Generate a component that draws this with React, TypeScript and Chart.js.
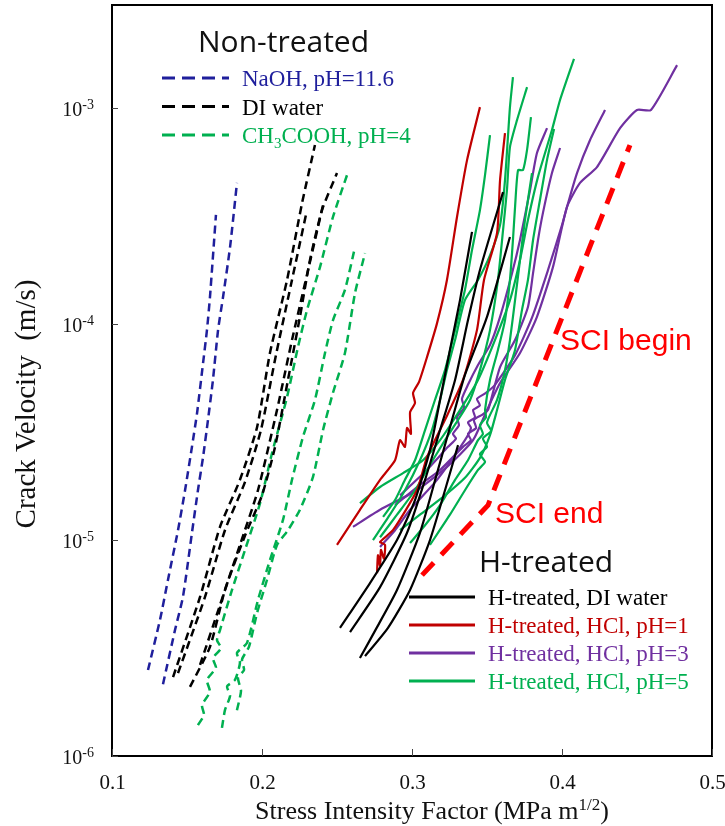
import React, { useEffect, useRef } from "react";
import { Chart, registerables } from "chart.js";

Chart.register(...registerables);

type Pt = [number, number]; // [stress intensity factor (MPa m^1/2), crack velocity (m/s)]

// ---- Non-treated runs (dashed) ----
const naohRun1: Pt[] = [[0.124, 2.5e-6], [0.132, 4.27e-6], [0.1373, 6.53e-6], [0.144, 1.11e-5], [0.1487, 1.7e-5], [0.1533, 2.7e-5], [0.1567, 3.87e-5], [0.1607, 6.59e-5], [0.1633, 9.37e-5], [0.1653, 1.33e-4], [0.1693, 3.2e-4]];
const naohRun2: Pt[] = [[0.134, 2.15e-6], [0.142, 3.83e-6], [0.1473, 5.45e-6], [0.1533, 1.08e-5], [0.1573, 1.7e-5], [0.1607, 2.42e-5], [0.164, 3.6e-5], [0.1673, 5.51e-5], [0.1707, 9.37e-5], [0.174, 1.33e-4], [0.1787, 2.27e-4], [0.1833, 4.5e-4]];

const diRun1: Pt[] = [[0.1407, 2.32e-6], [0.1587, 5.45e-6], [0.172, 1.15e-5], [0.1853, 1.9e-5], [0.1967, 3.33e-5], [0.2053, 7.34e-5], [0.2167, 1.6e-4], [0.2267, 3.63e-4], [0.2353, 6.74e-4]];
const diRun2: Pt[] = [[0.144, 2.42e-6], [0.162, 5.45e-6], [0.1753, 1.11e-5], [0.1887, 1.86e-5], [0.1993, 3.23e-5], [0.2093, 7.18e-5], [0.2193, 1.52e-4], [0.2293, 3.2e-4]];
const diRun3: Pt[] = [[0.152, 2.09e-6], [0.1653, 3.2e-6], [0.1753, 5.87e-6], [0.1887, 1.05e-5], [0.2, 1.61e-5], [0.2087, 2.7e-5], [0.2173, 5.51e-5], [0.2253, 1.08e-4], [0.232, 1.98e-4], [0.24, 3.37e-4], [0.25, 5.0e-4]];
const diRun4: Pt[] = [[0.1587, 2.64e-6], [0.172, 5.0e-6], [0.1853, 9.49e-6], [0.1973, 1.7e-5], [0.21, 4.0e-5], [0.22, 8.43e-5], [0.23, 1.69e-4], [0.2407, 3.56e-4]];

const aceticRun1: Pt[] = [[0.1573, 1.39e-6], [0.1613, 1.55e-6], [0.16, 1.72e-6], [0.1653, 1.98e-6], [0.1633, 2.25e-6], [0.1693, 2.56e-6], [0.1673, 2.84e-6], [0.1727, 3.16e-6], [0.17, 3.44e-6], [0.172, 3.83e-6], [0.18, 5.87e-6], [0.1887, 9.0e-6], [0.1987, 1.48e-5], [0.2067, 2.53e-5], [0.2167, 4.59e-5], [0.224, 7.83e-5], [0.23, 1.16e-4], [0.2387, 1.84e-4], [0.2473, 3.13e-4], [0.2567, 4.9e-4]];
const aceticRun2: Pt[] = [[0.1733, 1.35e-6], [0.1753, 1.63e-6], [0.1787, 1.9e-6], [0.1767, 2.1e-6], [0.182, 2.25e-6], [0.1853, 2.7e-6], [0.1833, 3.0e-6], [0.19, 3.34e-6], [0.1973, 5.27e-6], [0.2053, 8.07e-6], [0.214, 1.24e-5], [0.22, 1.9e-5], [0.2273, 3.0e-5], [0.2353, 4.45e-5], [0.242, 7.34e-5], [0.2473, 1.04e-4], [0.2553, 1.44e-4], [0.262, 2.27e-4]];
const aceticRun3: Pt[] = [[0.1833, 1.63e-6], [0.186, 2.0e-6], [0.184, 2.3e-6], [0.188, 2.5e-6], [0.1867, 2.8e-6], [0.1913, 3.2e-6], [0.1967, 4.59e-6], [0.2033, 6.53e-6], [0.21, 9.49e-6], [0.2173, 1.11e-5], [0.2253, 1.38e-5], [0.234, 1.96e-5], [0.2407, 3.23e-5], [0.2473, 4.8e-5], [0.2553, 7.34e-5], [0.262, 1.39e-4], [0.2687, 2.13e-4]];

// ---- H-treated runs (solid) ----
const hDiRun1: Pt[] = [[0.252, 3.92e-6], [0.272, 6.32e-6], [0.29, 1.0e-5], [0.302, 1.53e-5], [0.312, 2.61e-5], [0.3187, 4.45e-5], [0.3253, 7.59e-5], [0.332, 1.29e-4], [0.34, 2.67e-4]];
const hDiRun2: Pt[] = [[0.2587, 3.75e-6], [0.2787, 6.05e-6], [0.2967, 1.08e-5], [0.3087, 1.9e-5], [0.3187, 3.23e-5], [0.3287, 5.51e-5], [0.3373, 1.04e-4], [0.3453, 1.78e-4], [0.3607, 4.08e-4]];
const hDiRun3: Pt[] = [[0.2653, 2.84e-6], [0.2767, 3.95e-6], [0.29, 5.87e-6], [0.3053, 1.08e-5], [0.3167, 2.04e-5], [0.3267, 3.6e-5], [0.3353, 5.81e-5], [0.35, 1.08e-4], [0.3653, 2.53e-4]];
const hDiRun4: Pt[] = [[0.2687, 2.9e-6], [0.284, 3.92e-6], [0.2987, 5.87e-6], [0.312, 1.0e-5], [0.322, 1.7e-5], [0.3307, 2.75e-5]];

const hcl1Run1: Pt[] = [[0.25, 9.49e-6], [0.2653, 1.38e-5], [0.2787, 1.9e-5], [0.2887, 2.34e-5], [0.292, 2.9e-5], [0.2953, 2.7e-5], [0.2967, 3.3e-5], [0.2993, 3.1e-5], [0.2987, 3.9e-5], [0.302, 4.3e-5], [0.3007, 4.8e-5], [0.3047, 5.4e-5], [0.31, 7.03e-5], [0.3167, 1.01e-4], [0.3233, 1.6e-4], [0.33, 3.13e-4], [0.3367, 5.74e-4], [0.3453, 1.01e-3]];
const hcl1Run2: Pt[] = [[0.2767, 7.03e-6], [0.2773, 8.5e-6], [0.2787, 7.6e-6], [0.2793, 9.0e-6], [0.2813, 8.2e-6], [0.282, 9.5e-6], [0.2787, 9.79e-6], [0.2873, 1.11e-5], [0.3033, 1.7e-5], [0.31, 2.42e-5], [0.322, 3.6e-5], [0.334, 5.51e-5], [0.3433, 9.37e-5], [0.348, 1.6e-4], [0.3567, 2.64e-4], [0.3587, 4.64e-4], [0.362, 7.66e-4]];

const hcl3Run1: Pt[] = [[0.2607, 1.15e-5], [0.2787, 1.38e-5], [0.3033, 1.7e-5], [0.3233, 2.18e-5], [0.3407, 2.9e-5], [0.35, 4.0e-5], [0.3587, 5.33e-5], [0.372, 7.34e-5], [0.3833, 1.08e-4], [0.394, 1.84e-4], [0.4033, 3.48e-4], [0.412, 4.5e-4], [0.4233, 5.33e-4], [0.4387, 8.07e-4], [0.45, 9.8e-4], [0.4593, 9.8e-4], [0.4767, 1.58e-3]];
const hcl3Run2: Pt[] = [[0.2787, 9.29e-6], [0.2887, 1.11e-5], [0.2987, 1.38e-5], [0.3167, 1.9e-5], [0.3353, 2.9e-5], [0.3393, 3.3e-5], [0.3373, 3.5e-5], [0.342, 3.7e-5], [0.3407, 4.0e-5], [0.3453, 4.2e-5], [0.3433, 4.5e-5], [0.3493, 4.8e-5], [0.3553, 5.23e-5], [0.3687, 7.18e-5], [0.38, 1.07e-4], [0.3907, 1.78e-4], [0.4, 2.87e-4], [0.4033, 3.48e-4], [0.41, 5.0e-4], [0.4187, 7.11e-4], [0.4287, 9.8e-4]];
const hcl3Run3: Pt[] = [[0.292, 1.61e-5], [0.3087, 2.07e-5], [0.324, 2.7e-5], [0.3293, 2.95e-5], [0.3273, 3.1e-5], [0.3313, 3.4e-5], [0.33, 3.7e-5], [0.3347, 4.1e-5], [0.3333, 4.5e-5], [0.3373, 5.23e-5], [0.344, 6.46e-5], [0.352, 8.0e-5], [0.3587, 1.08e-4], [0.3667, 1.72e-4], [0.372, 2.45e-4], [0.3787, 4.17e-4], [0.3833, 6.19e-4], [0.39, 8.07e-4]];
const hcl3Run4: Pt[] = [[0.2887, 1.45e-5], [0.3053, 1.8e-5], [0.3187, 2.11e-5], [0.334, 2.7e-5], [0.3393, 2.9e-5], [0.3373, 3.1e-5], [0.3427, 3.3e-5], [0.3413, 3.6e-5], [0.3467, 3.8e-5], [0.3507, 4.0e-5], [0.3587, 6.32e-5], [0.3687, 8.43e-5], [0.3773, 1.2e-4], [0.3807, 1.72e-4], [0.384, 2.45e-4], [0.3873, 3.27e-4], [0.3933, 5.0e-4], [0.3987, 6.53e-4]];

const hcl5Run1: Pt[] = [[0.2653, 1.48e-5], [0.2787, 1.76e-5], [0.294, 2.04e-5], [0.3073, 2.34e-5], [0.3187, 2.9e-5], [0.332, 4.0e-5], [0.344, 5.51e-5], [0.3553, 8.43e-5], [0.3653, 1.29e-4], [0.372, 1.98e-4], [0.3773, 3.03e-4], [0.384, 4.8e-4], [0.3933, 7.91e-4], [0.3987, 1.09e-3], [0.408, 1.69e-3]];
const hcl5Run2: Pt[] = [[0.274, 1.0e-5], [0.2853, 1.31e-5], [0.2953, 1.7e-5], [0.3053, 2.34e-5], [0.3133, 3.23e-5], [0.3187, 4.45e-5], [0.3233, 6.12e-5], [0.3287, 8.43e-5], [0.3353, 1.29e-4], [0.344, 1.6e-4], [0.352, 2.08e-4], [0.3587, 2.87e-4], [0.362, 4.64e-4], [0.3653, 1.01e-3], [0.3673, 1.39e-3]];
const hcl5Run3: Pt[] = [[0.2787, 1.03e-5], [0.29, 1.31e-5], [0.302, 1.7e-5], [0.312, 2.23e-5], [0.322, 2.9e-5], [0.3307, 3.6e-5], [0.3387, 4.45e-5], [0.3453, 6.12e-5], [0.352, 9.37e-5], [0.3573, 1.6e-4], [0.3607, 2.72e-4], [0.3633, 4.17e-4], [0.3653, 6.59e-4], [0.37, 8.79e-4], [0.3767, 1.25e-3]];
const hcl5Run4: Pt[] = [[0.2987, 9.68e-6], [0.3087, 1.17e-5], [0.3187, 1.45e-5], [0.3287, 1.9e-5], [0.3373, 2.34e-5], [0.344, 2.9e-5], [0.3473, 3.1e-5], [0.3453, 3.4e-5], [0.3493, 3.7e-5], [0.3487, 4.0e-5], [0.352, 5.51e-5], [0.3573, 7.59e-5], [0.362, 1.04e-4], [0.3653, 1.6e-4], [0.3673, 2.45e-4], [0.3687, 3.48e-4], [0.3707, 5.16e-4], [0.374, 5.16e-4], [0.3767, 6.4e-4], [0.3793, 9.08e-4]];
const hcl5Run5: Pt[] = [[0.2807, 1.28e-5], [0.2887, 1.53e-5], [0.2953, 1.9e-5], [0.302, 2.34e-5], [0.3087, 3.23e-5], [0.3153, 4.45e-5], [0.322, 6.12e-5], [0.3287, 9.37e-5], [0.3353, 1.44e-4], [0.34, 2.2e-4], [0.3453, 3.37e-4], [0.3487, 4.9e-4], [0.352, 7.5e-4]];
const hcl5Run6: Pt[] = [[0.292, 1.11e-5], [0.3053, 1.31e-5], [0.322, 1.61e-5], [0.3353, 1.94e-5], [0.3453, 2.4e-5], [0.352, 3.06e-5], [0.3567, 4.0e-5], [0.362, 5.51e-5], [0.3687, 7.59e-5], [0.3733, 1.16e-4], [0.3773, 1.6e-4], [0.3807, 2.45e-4], [0.3853, 3.75e-4], [0.39, 5.74e-4], [0.3947, 8.0e-4]];
const hcl5Run7: Pt[] = [[0.312, 9.49e-6], [0.3253, 1.31e-5], [0.3353, 1.7e-5], [0.344, 2.11e-5], [0.3487, 2.3e-5], [0.3453, 2.5e-5], [0.35, 2.7e-5], [0.3473, 2.95e-5], [0.3527, 3.2e-5], [0.35, 3.5e-5], [0.3567, 4.45e-5], [0.362, 6.12e-5], [0.3653, 8.43e-5], [0.3687, 1.29e-4], [0.372, 1.98e-4], [0.3753, 3.03e-4], [0.38, 5.0e-4]];

// Stress-corrosion-interval guide line
const sciK = [0.3067, 0.3507, 0.4453];
const sciV = [6.88e-6, 1.45e-5, 6.74e-4];

// Axis ticks
const xTicks = [0.1, 0.2, 0.3, 0.4, 0.5];
const yTickExponents = [-6, -5, -4, -3];

const BLUE = "#1f1f9c";
const BLACK = "#000000";
const GREEN = "#00b050";
const RED = "#c00000";
const PURPLE = "#7030a0";
const SCI_RED = "#ff0000";

const SERIF = '"Liberation Serif", "Times New Roman", serif';
const SANS = '"Open Sans", "Noto Sans", sans-serif';
const ARIAL = '"Liberation Sans", Arial, sans-serif';

type Part = { t: string; shift?: "sup" | "sub" };

const nonTreatedSeries = [
  { label: [{ t: "NaOH, pH=11.6" }] as Part[], color: BLUE, runs: [naohRun1, naohRun2] },
  { label: [{ t: "DI water" }] as Part[], color: BLACK, runs: [diRun1, diRun2, diRun3, diRun4] },
  { label: [{ t: "CH" }, { t: "3", shift: "sub" }, { t: "COOH, pH=4" }] as Part[], color: GREEN, runs: [aceticRun1, aceticRun2, aceticRun3] },
];

const hTreatedSeries = [
  { label: "H-treated, DI water", color: BLACK, runs: [hDiRun1, hDiRun2, hDiRun3, hDiRun4] },
  { label: "H-treated, HCl, pH=1", color: RED, runs: [hcl1Run1, hcl1Run2] },
  { label: "H-treated, HCl, pH=3", color: PURPLE, runs: [hcl3Run1, hcl3Run2, hcl3Run3, hcl3Run4] },
  { label: "H-treated, HCl, pH=5", color: GREEN, runs: [hcl5Run1, hcl5Run2, hcl5Run3, hcl5Run4, hcl5Run5, hcl5Run6, hcl5Run7] },
];

// drawing order of the H-treated groups (purple on top of green)
const hDrawOrder = [0, 1, 3, 2];

function drawParts(
  ctx: CanvasRenderingContext2D,
  parts: Part[],
  x: number,
  y: number,
  size: number,
  family: string,
  color: string,
  align: "left" | "center" | "right" = "left"
) {
  const small = Math.round(size * 0.65);
  const widths = parts.map((p) => {
    ctx.font = `${p.shift ? small : size}px ${family}`;
    return ctx.measureText(p.t).width;
  });
  const total = widths.reduce((a, b) => a + b, 0);
  let cx = align === "left" ? x : align === "center" ? x - total / 2 : x - total;
  ctx.fillStyle = color;
  ctx.textAlign = "left";
  ctx.textBaseline = "alphabetic";
  parts.forEach((p, i) => {
    ctx.font = `${p.shift ? small : size}px ${family}`;
    const dy = p.shift === "sup" ? -size * 0.36 : p.shift === "sub" ? size * 0.22 : 0;
    ctx.fillText(p.t, cx, y + dy);
    cx += widths[i];
  });
}

const decorPlugin = {
  id: "decor",
  afterDatasetsDraw(chart: any) {
    const { ctx, chartArea } = chart;
    const xs = chart.scales.x;
    const ys = chart.scales.y;
    const { left, right, top, bottom } = chartArea;
    ctx.save();

    // frame
    ctx.strokeStyle = "#000";
    ctx.lineWidth = 2;
    ctx.setLineDash([]);
    ctx.strokeRect(left, top, right - left, bottom - top);

    // inward ticks + labels
    ctx.lineWidth = 1;
    ctx.strokeStyle = "#444";
    xTicks.forEach((v) => {
      const px = Math.round(xs.getPixelForValue(v)) + 0.5;
      ctx.beginPath();
      ctx.moveTo(px, bottom);
      ctx.lineTo(px, bottom - 7);
      ctx.stroke();
      drawParts(ctx, [{ t: v.toFixed(1) }], px, bottom + 33, 21, SERIF, "#111", "center");
    });
    yTickExponents.forEach((e) => {
      const py = Math.round(ys.getPixelForValue(Math.pow(10, e))) + 0.5;
      ctx.beginPath();
      ctx.moveTo(left, py);
      ctx.lineTo(left + 6, py);
      ctx.stroke();
      ctx.font = `14px ${SERIF}`;
      const supW = ctx.measureText(String(e)).width;
      ctx.font = `20px ${SERIF}`;
      const baseW = ctx.measureText("10").width;
      const xr = left - 18;
      ctx.fillStyle = "#111";
      ctx.fillText("10", xr - supW - baseW, py + 7);
      ctx.font = `14px ${SERIF}`;
      ctx.fillText(String(e), xr - supW, py);
    });

    // axis titles
    drawParts(
      ctx,
      [{ t: "Stress Intensity Factor (MPa m" }, { t: "1/2", shift: "sup" }, { t: ")" }],
      432,
      bottom + 63,
      26,
      SERIF,
      "#111",
      "center"
    );
    ctx.save();
    ctx.translate(35, 404);
    ctx.rotate(-Math.PI / 2);
    drawParts(ctx, [{ t: "Crack Velocity  (m/s)" }], 0, 0, 29, SERIF, "#111", "center");
    ctx.restore();

    // Non-treated legend
    drawParts(ctx, [{ t: "Non-treated" }], 198, 52, 30, SANS, "#111");
    nonTreatedSeries.forEach((s, i) => {
      const y = 78 + i * 28.5;
      ctx.strokeStyle = s.color;
      ctx.lineWidth = 3;
      ctx.setLineDash([13, 7]);
      ctx.beginPath();
      ctx.moveTo(162, y);
      ctx.lineTo(229, y);
      ctx.stroke();
      ctx.setLineDash([]);
      drawParts(ctx, s.label, 242, y + 8, 23, SERIF, s.color);
    });

    // H-treated legend
    drawParts(ctx, [{ t: "H-treated" }], 479, 572, 30, SANS, "#111");
    hTreatedSeries.forEach((s, i) => {
      const y = 597 + i * 28;
      ctx.strokeStyle = s.color;
      ctx.lineWidth = 3;
      ctx.beginPath();
      ctx.moveTo(409, y);
      ctx.lineTo(475, y);
      ctx.stroke();
      drawParts(ctx, [{ t: s.label }], 488, y + 8, 23, SERIF, s.color);
    });

    // guide-line annotations
    drawParts(ctx, [{ t: "SCI begin" }], 560, 350, 30, ARIAL, SCI_RED);
    drawParts(ctx, [{ t: "SCI end" }], 495, 523, 30, ARIAL, SCI_RED);

    ctx.restore();
  },
};

function toXY(run: Pt[]) {
  return run.map(([x, y]) => ({ x, y }));
}

export default function App() {
  const canvasRef = useRef<HTMLCanvasElement | null>(null);

  useEffect(() => {
    if (!canvasRef.current) return;
    const datasets: any[] = [];
    nonTreatedSeries.forEach((s) => {
      s.runs.forEach((run) => {
        datasets.push({
          label: s.label.map((p) => p.t).join(""),
          data: toXY(run),
          showLine: true,
          borderColor: s.color,
          borderWidth: 2.5,
          borderDash: [8, 5],
          pointRadius: 0,
          tension: 0.2,
          fill: false,
        });
      });
    });
    hDrawOrder.forEach((gi) => {
      const s = hTreatedSeries[gi];
      s.runs.forEach((run) => {
        datasets.push({
          label: s.label,
          data: toXY(run),
          showLine: true,
          borderColor: s.color,
          borderWidth: 2.2,
          pointRadius: 0,
          tension: 0.2,
          fill: false,
        });
      });
    });
    datasets.push({
      label: "SCI",
      data: sciK.map((x, i) => ({ x, y: sciV[i] })),
      showLine: true,
      borderColor: SCI_RED,
      borderWidth: 5,
      borderDash: [17, 11],
      pointRadius: 0,
      tension: 0,
      fill: false,
    });

    const chart = new Chart(canvasRef.current, {
      type: "scatter",
      data: { datasets },
      options: {
        animation: false,
        responsive: true,
        maintainAspectRatio: false,
        layout: { padding: { left: 112, right: 13, top: 5, bottom: 70 } },
        scales: {
          x: { type: "linear", min: 0.1, max: 0.5, display: false },
          y: { type: "logarithmic", min: 1e-6, max: 3e-3, display: false },
        },
        plugins: { legend: { display: false }, tooltip: { enabled: false } },
      },
      plugins: [decorPlugin],
    } as any);
    return () => chart.destroy();
  }, []);

  return (
    <div style={{ position: "fixed", left: 0, top: 0, width: 725, height: 826, background: "#fff" }}>
      <canvas ref={canvasRef} />
    </div>
  );
}
